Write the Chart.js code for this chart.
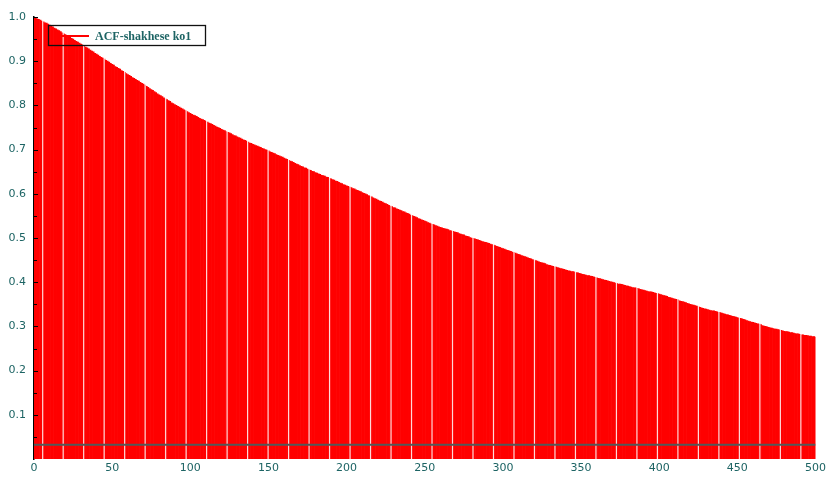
<!DOCTYPE html>
<html>
<head>
<meta charset="utf-8">
<script src="https://cdn.jsdelivr.net/npm/chart.js@4/dist/chart.umd.min.js"></script>
<style>
html,body{margin:0;padding:0;background:#fff;}
#wrap{width:829px;height:477px;position:relative;}
</style>
</head>
<body>
<div id="wrap"><canvas id="c" width="829" height="477"></canvas></div>
<script>
const seriesLabel = "ACF-shakhese ko1";
const confidenceLevel = 0.032;
const xTickValues = [0,50,100,150,200,250,300,350,400,450,500];
const yTickValues = [0.1,0.2,0.3,0.4,0.5,0.6,0.7,0.8,0.9,1.0];
// ACF value for lag 0..500
const acfValues = [
1.000,0.998,0.996,0.995,0.993,0.991,0.989,0.987,0.986,0.984,
0.982,0.980,0.978,0.975,0.973,0.971,0.969,0.967,0.964,0.962,
0.960,0.958,0.956,0.954,0.952,0.950,0.947,0.945,0.943,0.941,
0.939,0.937,0.934,0.932,0.930,0.928,0.925,0.923,0.921,0.918,
0.916,0.914,0.911,0.909,0.907,0.905,0.902,0.900,0.898,0.895,
0.893,0.891,0.888,0.886,0.884,0.882,0.879,0.877,0.875,0.872,
0.870,0.868,0.866,0.863,0.861,0.859,0.857,0.855,0.852,0.850,
0.848,0.846,0.843,0.841,0.838,0.836,0.834,0.831,0.829,0.826,
0.824,0.822,0.820,0.817,0.815,0.813,0.811,0.809,0.806,0.804,
0.802,0.800,0.798,0.796,0.794,0.792,0.790,0.788,0.786,0.784,
0.782,0.780,0.778,0.777,0.775,0.773,0.771,0.769,0.768,0.766,
0.764,0.762,0.760,0.759,0.757,0.755,0.753,0.751,0.750,0.748,
0.746,0.744,0.743,0.741,0.739,0.738,0.736,0.734,0.732,0.731,
0.729,0.727,0.726,0.724,0.722,0.721,0.719,0.717,0.715,0.714,
0.712,0.711,0.709,0.708,0.706,0.705,0.703,0.702,0.700,0.699,
0.697,0.695,0.694,0.692,0.691,0.689,0.687,0.686,0.684,0.683,
0.681,0.679,0.678,0.676,0.674,0.673,0.671,0.669,0.667,0.666,
0.664,0.662,0.661,0.659,0.658,0.656,0.654,0.653,0.651,0.650,
0.648,0.647,0.645,0.644,0.642,0.641,0.640,0.638,0.637,0.635,
0.634,0.632,0.631,0.629,0.628,0.626,0.624,0.623,0.621,0.620,
0.618,0.617,0.615,0.614,0.612,0.611,0.609,0.608,0.606,0.605,
0.603,0.601,0.600,0.598,0.596,0.595,0.593,0.591,0.589,0.588,
0.586,0.584,0.583,0.581,0.579,0.578,0.576,0.574,0.572,0.571,
0.569,0.568,0.566,0.565,0.563,0.562,0.560,0.559,0.557,0.556,
0.554,0.552,0.551,0.549,0.548,0.546,0.544,0.543,0.541,0.540,
0.538,0.537,0.535,0.534,0.532,0.531,0.530,0.528,0.527,0.525,
0.524,0.523,0.522,0.521,0.520,0.519,0.517,0.516,0.515,0.514,
0.513,0.512,0.510,0.509,0.508,0.507,0.505,0.504,0.503,0.501,
0.500,0.499,0.498,0.497,0.496,0.495,0.493,0.492,0.491,0.490,
0.489,0.488,0.486,0.485,0.484,0.483,0.481,0.480,0.479,0.477,
0.476,0.475,0.473,0.472,0.471,0.470,0.468,0.467,0.466,0.464,
0.463,0.462,0.460,0.459,0.458,0.457,0.455,0.454,0.453,0.451,
0.450,0.449,0.448,0.446,0.445,0.444,0.443,0.442,0.440,0.439,
0.438,0.437,0.436,0.435,0.434,0.433,0.432,0.431,0.430,0.429,
0.428,0.427,0.426,0.425,0.424,0.424,0.423,0.422,0.421,0.420,
0.419,0.418,0.417,0.416,0.415,0.415,0.414,0.413,0.412,0.411,
0.410,0.409,0.408,0.407,0.406,0.405,0.404,0.403,0.402,0.401,
0.400,0.399,0.398,0.397,0.396,0.396,0.395,0.394,0.393,0.392,
0.391,0.390,0.389,0.388,0.387,0.387,0.386,0.385,0.384,0.383,
0.382,0.381,0.380,0.379,0.378,0.378,0.377,0.376,0.375,0.374,
0.373,0.372,0.371,0.370,0.369,0.368,0.366,0.365,0.364,0.363,
0.362,0.361,0.360,0.358,0.357,0.356,0.355,0.354,0.352,0.351,
0.350,0.349,0.348,0.347,0.346,0.345,0.343,0.342,0.341,0.340,
0.339,0.338,0.337,0.336,0.335,0.335,0.334,0.333,0.332,0.331,
0.330,0.329,0.328,0.327,0.326,0.325,0.324,0.323,0.322,0.321,
0.320,0.319,0.318,0.317,0.316,0.315,0.313,0.312,0.311,0.310,
0.309,0.308,0.307,0.306,0.305,0.304,0.302,0.301,0.300,0.299,
0.298,0.297,0.296,0.295,0.294,0.294,0.293,0.292,0.291,0.290,
0.289,0.288,0.288,0.287,0.286,0.286,0.285,0.284,0.283,0.283,
0.282,0.281,0.281,0.280,0.280,0.279,0.278,0.278,0.277,0.277,
0.276
];

const TEXT_COLOR = '#1d6464';
const TICK_FONT = {family: 'DejaVu Sans', size: 11};

// Emulates the thin light seams that appear between bars in the original raster
const seamPlugin = {
  id: 'seams',
  afterDatasetDraw(chart, args) {
    if (args.index !== 0) return;
    const ctx = chart.ctx, xs = chart.scales.x, a = chart.chartArea;
    ctx.save();
    ctx.strokeStyle = 'rgba(255,255,255,0.85)';
    ctx.lineWidth = 1.2;
    for (let v = 5.56; v < 500; v += 13.11) {
      const px = xs.getPixelForValue(v);
      ctx.beginPath(); ctx.moveTo(px, a.top); ctx.lineTo(px, a.bottom); ctx.stroke();
    }
    ctx.restore();
  }
};

const decorPlugin = {
  id: 'decor',
  afterDraw(chart) {
    const ctx = chart.ctx, a = chart.chartArea, ys = chart.scales.y;
    ctx.save();
    // inward ticks on y axis
    ctx.strokeStyle = '#000'; ctx.lineWidth = 1;
    for (let i = 1; i <= 20; i++) {
      const v = i * 0.05;
      const py = Math.round(ys.getPixelForValue(v)) + 0.5;
      const len = (i % 2 === 0) ? 4 : 3;
      ctx.beginPath(); ctx.moveTo(a.left, py); ctx.lineTo(a.left + len, py); ctx.stroke();
    }
    // legend
    const lx = a.left + 14.5, ly = a.top + 8.5, lw = 157, lh = 20;
    ctx.strokeStyle = '#111'; ctx.lineWidth = 1.3;
    ctx.strokeRect(lx, ly, lw, lh);
    ctx.strokeStyle = '#ff0000'; ctx.lineWidth = 2;
    ctx.beginPath(); ctx.moveTo(lx + 13.5, ly + 10.5); ctx.lineTo(lx + 40.5, ly + 10.5); ctx.stroke();
    ctx.fillStyle = TEXT_COLOR;
    ctx.font = 'bold 12px "Liberation Serif"';
    ctx.textBaseline = 'middle';
    ctx.fillText(chart.data.datasets[0].label, lx + 46.5, ly + 11);
    ctx.restore();
  }
};

new Chart(document.getElementById('c'), {
  type: 'bar',
  data: {
    datasets: [
      {
        type: 'bar',
        label: seriesLabel,
        data: acfValues.map((v, i) => ({x: i, y: v})),
        backgroundColor: '#ff0000',
        borderWidth: 0,
        barPercentage: 1,
        categoryPercentage: 1,
        order: 2
      },
      {
        type: 'line',
        label: 'confidence',
        data: [{x: 0, y: confidenceLevel}, {x: 500, y: confidenceLevel}],
        borderColor: '#505a5a',
        borderWidth: 2,
        pointRadius: 0,
        order: 1
      }
    ]
  },
  options: {
    responsive: false,
    animation: false,
    devicePixelRatio: 1,
    layout: {padding: {top: 17, right: 12, left: 0, bottom: 0}},
    plugins: {legend: {display: false}, tooltip: {enabled: false}},
    scales: {
      x: {
        type: 'linear', min: 0, max: 500, offset: false,
        afterBuildTicks: s => { s.ticks = xTickValues.map(v => ({value: v})); },
        afterFit: s => { s.height = 18; },
        grid: {display: false, drawTicks: false, offset: false},
        border: {display: false},
        ticks: {color: TEXT_COLOR, font: TICK_FONT, padding: 3, maxRotation: 0, autoSkip: false}
      },
      y: {
        min: 0, max: 1,
        afterBuildTicks: s => { s.ticks = yTickValues.map(v => ({value: v})); },
        afterFit: s => { s.width = 34; },
        grid: {display: false, drawTicks: false},
        border: {display: true, color: '#000', width: 1.5},
        ticks: {color: TEXT_COLOR, font: TICK_FONT, padding: 8, callback: v => v.toFixed(1)}
      }
    }
  },
  plugins: [seamPlugin, decorPlugin]
});
</script>
</body>
</html>
